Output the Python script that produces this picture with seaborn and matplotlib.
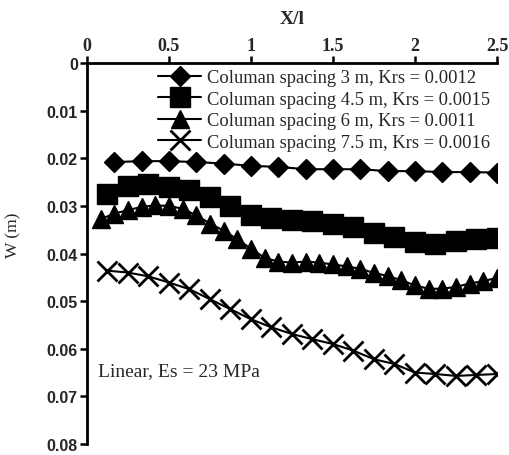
import matplotlib
matplotlib.use("Agg")
import matplotlib.pyplot as plt
import seaborn as sns
import pandas as pd

# Normalised position along the raft (X/l)
x_3m = [0.167, 0.333, 0.5, 0.667, 0.833, 1.0, 1.167, 1.333, 1.5, 1.667,
        1.833, 2.0, 2.167, 2.333, 2.5]
x_45m = [0.125, 0.25, 0.375, 0.5, 0.625, 0.75, 0.875, 1.0, 1.125, 1.25,
         1.375, 1.5, 1.625, 1.75, 1.875, 2.0, 2.125, 2.25, 2.375, 2.5]
x_6m = [0.083, 0.167, 0.25, 0.333, 0.417, 0.5, 0.583, 0.667, 0.75, 0.833,
        0.917, 1.0, 1.083, 1.167, 1.25, 1.333, 1.417, 1.5, 1.583, 1.667,
        1.75, 1.833, 1.917, 2.0, 2.083, 2.167, 2.25, 2.333, 2.417, 2.5]
x_75m = [0.125, 0.25, 0.375, 0.5, 0.625, 0.75, 0.875, 1.0, 1.125, 1.25,
         1.375, 1.5, 1.625, 1.75, 1.875, 2.0, 2.125, 2.25, 2.375, 2.5]

# Settlement W (m)
w_3m = [0.0208, 0.0206, 0.0206, 0.0208, 0.0211, 0.0216, 0.0218, 0.0223,
        0.0223, 0.0223, 0.0227, 0.0227, 0.0229, 0.0229, 0.0230]
w_45m = [0.0275, 0.0259, 0.0255, 0.0260, 0.0266, 0.0282, 0.0300, 0.0319,
         0.0326, 0.0330, 0.0332, 0.0337, 0.0345, 0.0357, 0.0366, 0.0376,
         0.0380, 0.0374, 0.0370, 0.0368]
w_6m = [0.0328, 0.0316, 0.0309, 0.0302, 0.0299, 0.0300, 0.0306, 0.0320,
        0.0337, 0.0352, 0.0370, 0.0390, 0.0409, 0.0417, 0.0419, 0.0417,
        0.0419, 0.0423, 0.0427, 0.0432, 0.0441, 0.0447, 0.0456, 0.0467,
        0.0474, 0.0474, 0.0470, 0.0463, 0.0458, 0.0451]
w_75m = [0.0436, 0.0440, 0.0448, 0.0461, 0.0475, 0.0496, 0.0517, 0.0538,
         0.0555, 0.0569, 0.0580, 0.0590, 0.0604, 0.0622, 0.0632, 0.0650,
         0.0653, 0.0657, 0.0655, 0.0653]

labels = ["Columan spacing 3 m, Krs = 0.0012",
          "Columan spacing 4.5 m, Krs = 0.0015",
          "Columan spacing 6 m, Krs = 0.0011",
          "Columan spacing 7.5 m, Krs = 0.0016"]

x_ticks = [0, 0.5, 1, 1.5, 2, 2.5]
x_tick_labels = ["0", "0.5", "1", "1.5", "2", "2.5"]
y_ticks = [0, 0.01, 0.02, 0.03, 0.04, 0.05, 0.06, 0.07, 0.08]
y_tick_labels = ["0", "0.01", "0.02", "0.03", "0.04", "0.05", "0.06", "0.07", "0.08"]

sns.set_style("ticks")
plt.rcParams["font.family"] = ["Liberation Serif", "DejaVu Serif"]

fig = plt.figure(figsize=(5.09, 4.56), dpi=100)
ax = fig.add_axes([0.1709, 0.0241, 0.8055, 0.8355])

series = [
    (x_3m, w_3m, "D", 10, 1.0),
    (x_45m, w_45m, "s", 14.5, 1.0),
    (x_6m, w_6m, "^", 13.5, 1.0),
    (x_75m, w_75m, "x", 15, 2.0),
]
for (xs, ws, mk, ms, mew), lab in zip(series, labels):
    df = pd.DataFrame({"X/l": xs, "W": ws})
    sns.lineplot(data=df, x="X/l", y="W", ax=ax, color="black",
                 linewidth=1.5, marker=mk, markersize=ms,
                 markeredgewidth=mew, markeredgecolor="black",
                 markerfacecolor="black", label=lab)

ax.set_xlim(0, 2.5)
ax.set_ylim(0.08, 0)

ax.xaxis.set_ticks_position("top")
ax.xaxis.set_label_position("top")
ax.spines["right"].set_visible(False)
ax.spines["bottom"].set_visible(False)
for s in ("top", "left"):
    ax.spines[s].set_linewidth(2)
    ax.spines[s].set_color("black")

ax.set_xticks(x_ticks)
ax.set_xticklabels(x_tick_labels, fontsize=13, fontweight="bold",
                   family="Liberation Serif")
ax.set_yticks(y_ticks)
ax.set_yticklabels(y_tick_labels, fontsize=11.5, fontweight="bold",
                   family="Liberation Sans")
ax.tick_params(axis="both", direction="out", length=5, width=1.8,
               color="black", pad=1.5)

ax.set_xlabel("X/l", fontsize=14, fontweight="bold", labelpad=10)
ax.set_ylabel("W (m)", fontsize=12.5)
ax.yaxis.set_label_coords(-0.160, 0.551)

ax.text(0.067, 0.0645, "Linear, Es = 23 MPa", fontsize=14,
        va="center", ha="left")

leg = ax.legend(loc="upper right", bbox_to_anchor=(1.0, 1.0),
                frameon=False, fontsize=13.3, handlelength=2.3,
                handletextpad=0.35, labelspacing=0.24, borderaxespad=0.25,
                borderpad=0.1)

fig.savefig("out.png", dpi=100)
